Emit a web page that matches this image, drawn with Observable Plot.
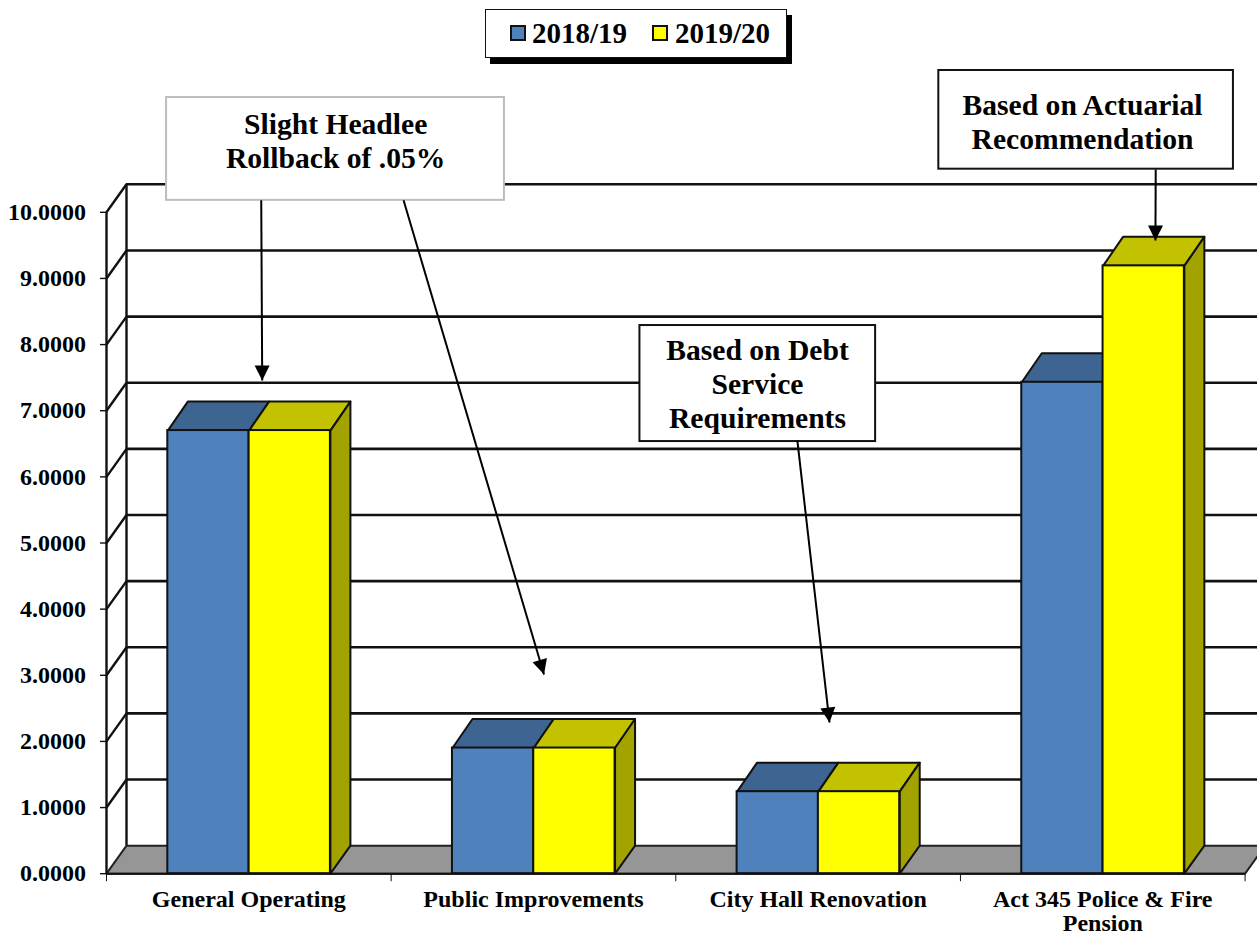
<!DOCTYPE html>
<html>
<head>
<meta charset="utf-8">
<title>Millage rates by fund</title>
<script src="https://cdn.jsdelivr.net/npm/d3@7"></script>
<script src="https://cdn.jsdelivr.net/npm/@observablehq/plot@0.6"></script>
<style>
  html, body { margin: 0; padding: 0; background: #fff; overflow: hidden; }
  .head { position: relative; height: 64px; font: bold 29px "Liberation Serif", serif; color: #000; }
  .legend { position: absolute; left: 485px; top: 9px; width: 300px; height: 47px; background: #fff;
            border: 1px solid #111; box-shadow: 5px 6px 0 #000; }
  .legend span { position: absolute; top: 6px; line-height: 35px; white-space: nowrap; }
  .legend i { position: absolute; top: 15px; width: 12px; height: 12px; border: 2.5px solid #111; }
  svg { display: block; }
</style>
</head>
<body>
<div class="head">
  <div class="legend" id="legend"></div>
</div>
<div id="chart"></div>
<script>
// Rates per fund, two fiscal years
const funds = ["General Operating", "Public Improvements", "City Hall Renovation", "Act 345 Police & Fire\nPension"];
const years = ["2018/19", "2019/20"];
const rates2018 = [6.70, 1.90, 1.24, 7.43];
const rates2019 = [6.70, 1.90, 1.24, 9.19];
const yTicks = [0, 1, 2, 3, 4, 5, 6, 7, 8, 9, 10];
const xTicks = [0, 1, 2, 3, 4];

// Face colours of each column series: front, top, side
const frontColors = ["#4F81BD", "#FFFF00"];
const topColors = ["#3E6491", "#C2C200"];
const sideColors = ["#30507A", "#A3A300"];
const floorColor = "#969696";
const ink = "#111";

// Notes placed on the chart, in axis units
const callouts = [
  {text: "Slight Headlee\nRollback of .05%", x1: 0.211, x2: 1.398, y1: 10.181, y2: 11.736, tx: 0.805, ty: 11.085, border: "#bdbdbd"},
  {text: "Based on Debt\nService\nRequirements", x1: 1.874, x2: 2.702, y1: 6.534, y2: 8.288, tx: 2.287, ty: 7.412, border: ink},
  {text: "Based on Actuarial\nRecommendation", x1: 2.924, x2: 3.959, y1: 10.652, y2: 12.144, tx: 3.429, ty: 11.373, border: ink}
];
const pointers = [
  {x1: 0.5436, y1: 10.181, x2: 0.547, y2: 7.457},
  {x1: 1.0436, y1: 10.181, x2: 1.537, y2: 3.012},
  {x1: 2.427, y1: 6.55, x2: 2.540, y2: 2.286},
  {x1: 3.686, y1: 10.647, x2: 3.685, y2: 9.574}
];

// Plot frame
const headHeight = 64;
const width = 1257, height = 937 - headHeight;
const xRange = [106, 1244.6];
const yRange = [873.2 - headHeight, 211.8 - headHeight];
const unitX = (xRange[1] - xRange[0]) / 4;
const unitY = (yRange[0] - yRange[1]) / 10;

// Extrusion of the columns and box, and column width, in axis units
const depthX = 20 / unitX;
const depthY = 28 / unitY;
const colDepthY = 29 / unitY;
const colWidth = 81.3 / unitX;
const lastX = 4 + depthX * 2;

// Fronts of the columns, centred on each fund
const fronts = [];
funds.forEach((fund, i) => {
  [rates2018[i], rates2019[i]].forEach((value, s) => {
    const x1 = i + 0.5 + (s - 1) * colWidth + 0.001;
    fronts.push({fund, s, value, x1, x2: x1 + colWidth, color: frontColors[s]});
  });
});

// Top and side faces as closed outlines, blue first so the yellow overlaps it
const faces = [];
fronts.forEach((f, n) => {
  const top = [[f.x1, f.value], [f.x2, f.value], [f.x2 + depthX, f.value + colDepthY], [f.x1 + depthX, f.value + colDepthY], [f.x1, f.value]];
  top.forEach(([x, y]) => faces.push({id: `top${n}`, x, y, color: topColors[f.s]}));
  if (f.s === 1) {
    const side = [[f.x2, 0], [f.x2 + depthX, depthY], [f.x2 + depthX, f.value + colDepthY], [f.x2, f.value], [f.x2, 0]];
    side.forEach(([x, y]) => faces.push({id: `side${n}`, x, y, color: sideColors[f.s]}));
  }
});

const floor = [[0, 0], [4, 0], [4 + depthX, depthY], [depthX, depthY], [0, 0]].map(([x, y]) => ({x, y}));

// Triangular arrowhead with its tip at the anchor point, pointing down before rotation
const arrowHead = {
  draw(context) {
    context.moveTo(0, 0);
    context.lineTo(-7.5, -15);
    context.lineTo(7.5, -15);
    context.closePath();
  }
};
const headAngle = (p) => {
  const dx = (p.x2 - p.x1) * unitX;
  const dy = (p.y1 - p.y2) * unitY;
  return Math.atan2(-dx, dy) * 180 / Math.PI;
};

const serif = {fontFamily: "Liberation Serif", fontWeight: "bold", fill: "#000"};

const chart = Plot.plot({
  width,
  height,
  marginLeft: xRange[0],
  marginRight: 0,
  marginTop: 0,
  marginBottom: height - yRange[0],
  style: {background: "#fff", overflow: "hidden"},
  x: {domain: [0, 4], range: xRange, axis: null},
  y: {domain: [0, 10], range: yRange, axis: null},
  marks: [
    // Floor, back wall grid and left wall
    Plot.line(floor, {x: "x", y: "y", fill: floorColor, stroke: "#222", strokeWidth: 2}),
    Plot.ruleY(yTicks.filter((v) => v > 0), {y: (v) => v + depthY, x1: depthX, x2: lastX, stroke: ink, strokeWidth: 2.6}),
    Plot.ruleX([0], {y1: 0, y2: 10, stroke: ink, strokeWidth: 2.4}),
    Plot.ruleX([depthX], {y1: depthY, y2: 10 + depthY, stroke: ink, strokeWidth: 2.4}),
    Plot.link(yTicks.slice(1), {x1: 0, y1: (v) => v, x2: depthX, y2: (v) => v + depthY, stroke: ink, strokeWidth: 2.4}),

    // Columns
    Plot.line(faces, {x: "x", y: "y", z: "id", fill: (d) => d.color, stroke: ink, strokeWidth: 2, strokeLinejoin: "round"}),
    Plot.rect(fronts, {x1: "x1", x2: "x2", y1: 0, y2: "value", fill: (d) => d.color, stroke: ink, strokeWidth: 2}),

    // Axes
    Plot.ruleY([0], {x1: 0, x2: 4, stroke: ink, strokeWidth: 2}),
    Plot.axisY({ticks: yTicks, tickFormat: ".4f", tickSize: 6, tickPadding: 14.5, label: null, stroke: ink, strokeWidth: 1.4, fontSize: 24, ...serif}),
    Plot.axisX({ticks: xTicks, tickFormat: () => "", tickSize: 8, label: null, stroke: ink, strokeWidth: 1}),
    Plot.text(funds, {x: (d, i) => i + 0.5, y: () => 0, dy: 16, text: (d) => d, lineAnchor: "top", textAnchor: "middle", lineHeight: 1.01, fontSize: 24, ...serif}),

    // Notes and their pointers
    ...callouts.map((c) => Plot.rect([c], {x1: "x1", x2: "x2", y1: "y1", y2: "y2", fill: "#fff", stroke: c.border, strokeWidth: 2})),
    Plot.text(callouts, {x: "tx", y: "ty", text: "text", lineAnchor: "middle", textAnchor: "middle", lineHeight: 1.15, fontSize: 29.6, ...serif}),
    Plot.link(pointers, {x1: "x1", y1: "y1", x2: "x2", y2: "y2", stroke: "#000", strokeWidth: 2}),
    Plot.dot(pointers, {x: "x2", y: "y2", symbol: arrowHead, rotate: headAngle, fill: "#000", stroke: "none"})
  ]
});
document.getElementById("chart").append(chart);

// Legend entries above the plot
const legend = d3.select("#legend");
const slots = [[24, 46], [166, 189]];
years.forEach((year, s) => {
  legend.append("i").style("left", `${slots[s][0]}px`).style("background", frontColors[s]);
  legend.append("span").style("left", `${slots[s][1]}px`).text(year);
});
</script>
</body>
</html>
